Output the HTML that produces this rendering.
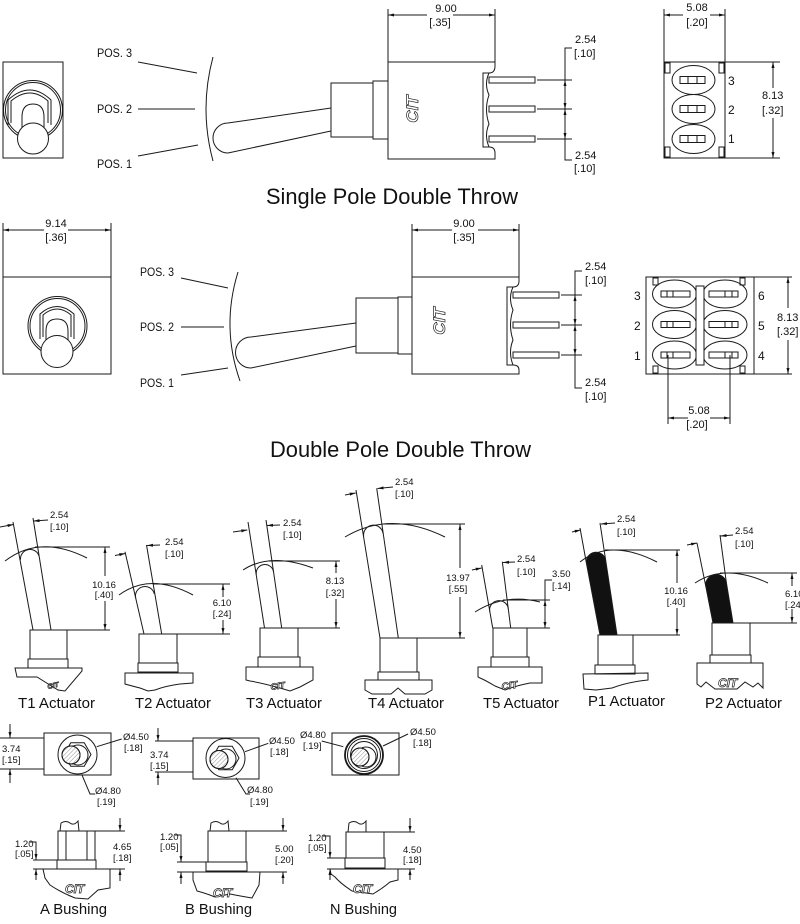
<!DOCTYPE html>
<html><head><meta charset="utf-8">
<style>
html,body{margin:0;padding:0;background:#fff;}
svg{display:block;}
text{font-family:"Liberation Sans",sans-serif;fill:#111;stroke:none;}
.d{font-size:11px;}
.s{font-size:9.5px;}
.p{font-size:12px;}
.t{font-size:22px;}
.l{font-size:14.5px;}
.n{font-size:12px;}
.logo{font-family:"Liberation Sans",sans-serif;font-weight:bold;font-style:italic;fill:#fff;stroke:#222;stroke-width:0.7;}
</style></head><body>
<svg width="800" height="924" viewBox="0 0 800 924" xmlns="http://www.w3.org/2000/svg">
<defs>
<marker id="a" viewBox="0 0 10 10" refX="10" refY="5" markerWidth="6" markerHeight="6" orient="auto-start-reverse" markerUnits="userSpaceOnUse"><path d="M0,2.5L10,5L0,7.5z" fill="#111" stroke="none"/></marker>
<pattern id="h" width="3" height="3" patternUnits="userSpaceOnUse" patternTransform="rotate(45)"><line x1="0" y1="0" x2="0" y2="3" stroke="#777" stroke-width="0.8"/></pattern>
</defs>
<g fill="none" stroke="#1a1a1a" stroke-width="1">

<!-- ================= SPDT ================= -->
<!-- front view -->
<rect x="3" y="62" width="60" height="96"/>
<circle cx="33" cy="110" r="29.5"/>
<circle cx="33" cy="110" r="27.5"/>
<path d="M8,125 L8,100 Q30,80 51,100 L51,125"/>
<path d="M11,123 L11,101 Q30,85 48,101 L48,123"/>
<path d="M22,130 L22,117 Q22,104 33,104 Q44,104 44,117 L44,130"/>
<circle cx="33" cy="138.5" r="15.5" fill="#fff"/>

<!-- side view -->
<line x1="138" y1="62" x2="197" y2="73"/>
<line x1="138" y1="109" x2="195" y2="109"/>
<line x1="138" y1="156" x2="198" y2="145"/>
<path d="M213,57 Q199,109 213,161"/>
<path d="M331,108 L228,123 A15,15 0 0 0 228,153 L331,131"/>
<rect x="331" y="83" width="42" height="54"/>
<rect x="373" y="81" width="15" height="58"/>
<path d="M388,103 L388,62 L495,62 L495,66 Q495,73 489,73 L483,73 L483,147 L489,147 Q495,147 495,153 L495,159 L388,159 L388,117"/>
<path d="M489,73 Q484,84 489,95 Q484,109 489,124 Q484,135 489,147"/>
<rect x="489" y="77" width="46" height="6"/>
<rect x="489" y="106" width="46" height="6"/>
<rect x="489" y="136" width="46" height="6"/>
<line x1="537" y1="80" x2="572" y2="80"/>
<line x1="537" y1="109" x2="572" y2="109"/>
<line x1="537" y1="139" x2="572" y2="139"/>
<path d="M572,48 L565,48 L565,80"/>
<path d="M565,139 L565,160 L572,160"/>
<line x1="565" y1="80" x2="565" y2="109" marker-start="url(#a)" marker-end="url(#a)"/>
<line x1="565" y1="109" x2="565" y2="139" marker-start="url(#a)" marker-end="url(#a)"/>
<line x1="388" y1="9" x2="388" y2="62"/>
<line x1="495" y1="9" x2="495" y2="62"/>
<line x1="427" y1="15" x2="388" y2="15" marker-end="url(#a)"/>
<line x1="453" y1="15" x2="495" y2="15" marker-end="url(#a)"/>

<!-- bottom view -->
<line x1="664" y1="9" x2="664" y2="62"/>
<line x1="725" y1="9" x2="725" y2="62"/>
<line x1="683" y1="15" x2="664" y2="15" marker-end="url(#a)"/>
<line x1="710" y1="15" x2="725" y2="15" marker-end="url(#a)"/>
<rect x="664" y="62" width="61" height="96"/>
<rect x="665" y="63" width="5" height="10"/>
<rect x="719" y="63" width="5" height="10"/>
<rect x="665" y="147" width="5" height="10"/>
<rect x="719" y="147" width="5" height="10"/>
<ellipse cx="693.5" cy="80" rx="21.5" ry="14.5"/>
<ellipse cx="693.5" cy="109" rx="21.5" ry="14.5"/>
<ellipse cx="693.5" cy="139" rx="21.5" ry="14.5"/>
<rect x="680" y="76.5" width="25" height="7"/><line x1="688" y1="76.5" x2="688" y2="83.5"/><line x1="697" y1="76.5" x2="697" y2="83.5"/>
<rect x="680" y="105.5" width="25" height="7"/><line x1="688" y1="105.5" x2="688" y2="112.5"/><line x1="697" y1="105.5" x2="697" y2="112.5"/>
<rect x="680" y="135.5" width="25" height="7"/><line x1="688" y1="135.5" x2="688" y2="142.5"/><line x1="697" y1="135.5" x2="697" y2="142.5"/>
<line x1="725" y1="62" x2="780" y2="62"/>
<line x1="725" y1="158" x2="780" y2="158"/>
<line x1="773" y1="88" x2="773" y2="62" marker-end="url(#a)"/>
<line x1="773" y1="118" x2="773" y2="158" marker-end="url(#a)"/>

<!-- ================= DPDT ================= -->
<!-- front view -->
<line x1="3" y1="223" x2="3" y2="277"/>
<line x1="111" y1="223" x2="111" y2="277"/>
<line x1="44" y1="230" x2="3" y2="230" marker-end="url(#a)"/>
<line x1="68" y1="230" x2="111" y2="230" marker-end="url(#a)"/>
<rect x="3" y="277" width="108" height="97"/>
<circle cx="57.5" cy="326" r="29.5"/>
<circle cx="57.5" cy="326" r="27.5"/>
<path d="M40,339 L40,314 Q57,299 74,314 L74,339"/>
<path d="M43,337 L43,315 Q57,303 71,315 L71,337"/>
<path d="M46,345 L46,331 Q46,319 57,319 Q68,319 68,331 L68,345"/>
<circle cx="57" cy="351.5" r="16" fill="#fff"/>

<!-- side view -->
<line x1="181" y1="278" x2="228" y2="288"/>
<line x1="181" y1="327" x2="224" y2="327"/>
<line x1="181" y1="375" x2="228" y2="368"/>
<path d="M238,272 Q221,327 240,381"/>
<path d="M356,323 L251,337 A15.5,15.5 0 0 0 251,368 L356,346"/>
<rect x="356" y="298" width="42" height="55"/>
<rect x="398" y="297" width="14" height="57"/>
<path d="M412,318 L412,277 L519,277 L519,281 Q519,287 513,287 L507,287 L507,365 L513,365 Q519,365 519,370 L519,374 L412,374 L412,332"/>
<path d="M513,287 Q508,298 513,310 Q508,325 513,340 Q508,352 513,365"/>
<rect x="513" y="292" width="46" height="6"/>
<rect x="513" y="322" width="46" height="6"/>
<rect x="513" y="352" width="46" height="6"/>
<line x1="561" y1="295" x2="582" y2="295"/>
<line x1="561" y1="325" x2="582" y2="325"/>
<line x1="561" y1="355" x2="582" y2="355"/>
<path d="M582,271 L575,271 L575,295"/>
<path d="M575,355 L575,388 L582,388"/>
<line x1="575" y1="295" x2="575" y2="325" marker-start="url(#a)" marker-end="url(#a)"/>
<line x1="575" y1="325" x2="575" y2="355" marker-start="url(#a)" marker-end="url(#a)"/>
<line x1="412" y1="224" x2="412" y2="277"/>
<line x1="519" y1="224" x2="519" y2="277"/>
<line x1="452" y1="230" x2="412" y2="230" marker-end="url(#a)"/>
<line x1="478" y1="230" x2="519" y2="230" marker-end="url(#a)"/>

<!-- bottom view -->
<rect x="646" y="277" width="108" height="97"/>
<rect x="653" y="278" width="5" height="7"/>
<rect x="740" y="278" width="5" height="7"/>
<rect x="653" y="366" width="5" height="7"/>
<rect x="740" y="366" width="5" height="7"/>
<ellipse cx="674.5" cy="294" rx="22" ry="14"/>
<ellipse cx="674.5" cy="324.5" rx="22" ry="14"/>
<ellipse cx="674.5" cy="355" rx="22" ry="14"/>
<ellipse cx="725" cy="294" rx="22" ry="14"/>
<ellipse cx="725" cy="324.5" rx="22" ry="14"/>
<ellipse cx="725" cy="355" rx="22" ry="14"/>
<rect x="696" y="286" width="8" height="79" fill="#fff"/>
<rect x="661" y="291" width="29" height="6"/><line x1="667" y1="291" x2="667" y2="297"/><line x1="673" y1="291" x2="673" y2="297"/>
<rect x="661" y="321.5" width="29" height="6"/><line x1="667" y1="321.5" x2="667" y2="327.5"/><line x1="673" y1="321.5" x2="673" y2="327.5"/>
<rect x="661" y="352" width="29" height="6"/><line x1="667" y1="352" x2="667" y2="358"/><line x1="673" y1="352" x2="673" y2="358"/>
<rect x="709" y="291" width="29" height="6"/><line x1="725" y1="291" x2="725" y2="297"/><line x1="732" y1="291" x2="732" y2="297"/>
<rect x="709" y="321.5" width="29" height="6"/><line x1="725" y1="321.5" x2="725" y2="327.5"/><line x1="732" y1="321.5" x2="732" y2="327.5"/>
<rect x="709" y="352" width="29" height="6"/><line x1="725" y1="352" x2="725" y2="358"/><line x1="732" y1="352" x2="732" y2="358"/>
<line x1="754" y1="277" x2="792" y2="277"/>
<line x1="754" y1="374" x2="792" y2="374"/>
<line x1="788" y1="308" x2="788" y2="277" marker-end="url(#a)"/>
<line x1="788" y1="340" x2="788" y2="374" marker-end="url(#a)"/>
<line x1="668" y1="355" x2="668" y2="424"/>
<line x1="730" y1="355" x2="730" y2="424"/>
<line x1="688" y1="418" x2="668" y2="418" marker-end="url(#a)"/>
<line x1="710" y1="418" x2="730" y2="418" marker-end="url(#a)"/>

<!-- ================= ACTUATORS ================= -->
<!-- T1 -->
<line x1="13" y1="522" x2="33" y2="630"/>
<line x1="33" y1="518" x2="51" y2="630"/>
<path d="M20.5,559.7 A9.5,9.5 0 0 1 39.1,556.3"/>
<path d="M5,561 Q40,534 87,558"/>
<line x1="0" y1="527" x2="13.5" y2="524.5" marker-end="url(#a)"/>
<line x1="48" y1="520" x2="33.5" y2="521" marker-end="url(#a)"/>
<line x1="35" y1="547" x2="110" y2="547"/>
<line x1="67" y1="630" x2="110" y2="630"/>
<line x1="105" y1="576" x2="105" y2="547" marker-end="url(#a)"/>
<line x1="105" y1="601" x2="105" y2="630" marker-end="url(#a)"/>
<rect x="30" y="630" width="37" height="29"/>
<rect x="28" y="659" width="40" height="9"/>
<path d="M15,668 L82,668 L82,671 L65,691 L58,690 L37,677 L17,677 Z"/>

<!-- T2 -->
<line x1="125" y1="551.7" x2="144" y2="634"/>
<line x1="146.5" y1="545" x2="161.7" y2="634"/>
<path d="M135.7,598.1 A9.5,9.5 0 0 1 154.3,593.9"/>
<path d="M119,595 Q150,572 193,595"/>
<line x1="115" y1="555.5" x2="125.3" y2="553.5" marker-end="url(#a)"/>
<line x1="160" y1="545" x2="147" y2="545.5" marker-end="url(#a)"/>
<line x1="153" y1="584" x2="230" y2="584"/>
<line x1="177" y1="634" x2="230" y2="634"/>
<line x1="223" y1="597" x2="223" y2="584" marker-end="url(#a)"/>
<line x1="223" y1="620" x2="223" y2="634" marker-end="url(#a)"/>
<rect x="139" y="634" width="38" height="29"/>
<rect x="138" y="663" width="40" height="9"/>
<path d="M125,673 L193,673 L193,683 L180,684 Q165,686 155,690 L148,691 L140,688 Q132,686 125,684 Z"/>

<!-- T3 -->
<line x1="248" y1="522" x2="264.5" y2="628"/>
<line x1="266" y1="520" x2="281.7" y2="628"/>
<path d="M256.3,574.3 A8.7,8.7 0 0 1 273.5,571.7"/>
<path d="M243,570 Q270,552 313,568"/>
<line x1="233" y1="532" x2="247.3" y2="530" marker-end="url(#a)"/>
<line x1="280" y1="525" x2="267" y2="525.5" marker-end="url(#a)"/>
<line x1="268" y1="561" x2="340" y2="561"/>
<line x1="298" y1="628" x2="340" y2="628"/>
<line x1="336" y1="573" x2="336" y2="561" marker-end="url(#a)"/>
<line x1="336" y1="599" x2="336" y2="628" marker-end="url(#a)"/>
<rect x="260" y="628" width="38" height="29"/>
<rect x="258" y="657" width="42" height="10"/>
<path d="M246,667 L313,667 L313,680 L300,687 L290,691 L280,688 Q262,683 250,681 L246,680 Z"/>

<!-- T4 -->
<line x1="356" y1="490" x2="380" y2="638"/>
<line x1="376.7" y1="488.3" x2="398.3" y2="638"/>
<path d="M363.7,536.5 A9.8,9.8 0 0 1 383.1,533.5"/>
<path d="M345,537 Q390,510 445,537"/>
<line x1="345" y1="495" x2="355.7" y2="493" marker-end="url(#a)"/>
<line x1="393" y1="487" x2="377.5" y2="488.5" marker-end="url(#a)"/>
<line x1="383" y1="524" x2="465" y2="524"/>
<line x1="417" y1="638" x2="465" y2="638"/>
<line x1="460" y1="568" x2="460" y2="524" marker-end="url(#a)"/>
<line x1="460" y1="597" x2="460" y2="638" marker-end="url(#a)"/>
<rect x="380" y="638" width="37" height="34"/>
<rect x="378" y="672" width="41" height="8"/>
<path d="M365,680 L432,680 L432,690 L425,694 L405,694 L398,688 L391,694 L372,694 L365,690 Z"/>

<!-- T5 -->
<line x1="481.7" y1="565" x2="492.7" y2="628"/>
<line x1="502.3" y1="561.7" x2="510.7" y2="628"/>
<path d="M489.7,611.4 A9.4,9.4 0 0 1 508.3,608.6"/>
<path d="M475,612 Q505,593 540,602"/>
<line x1="472" y1="570" x2="481.7" y2="568" marker-end="url(#a)"/>
<line x1="515" y1="562" x2="503" y2="562.5" marker-end="url(#a)"/>
<line x1="503" y1="600" x2="550" y2="600"/>
<line x1="527" y1="628" x2="550" y2="628"/>
<path d="M552,580 L545,580 L545,600"/>
<line x1="545" y1="600" x2="545" y2="628" marker-start="url(#a)" marker-end="url(#a)"/>
<rect x="493" y="628" width="34" height="29"/>
<rect x="491" y="657" width="38" height="10"/>
<path d="M478,667 L542,667 L542,683 L530,683 Q515,686 505,690 L495,686 Q485,680 480,678 L478,677 Z"/>

<!-- P1 -->
<line x1="580" y1="528" x2="586.5" y2="563.6"/>
<line x1="600" y1="523" x2="605.7" y2="560.4"/>
<path d="M586.5,563.6 A9.7,9.7 0 0 1 605.7,560.4 L617,635 L600,635 Z" fill="#111"/>
<path d="M580,562 Q610,538 657,562"/>
<line x1="572" y1="532" x2="580.7" y2="530" marker-end="url(#a)"/>
<line x1="615" y1="523" x2="601" y2="524" marker-end="url(#a)"/>
<line x1="605" y1="550" x2="680" y2="550"/>
<line x1="633" y1="635" x2="680" y2="635"/>
<line x1="677" y1="583" x2="677" y2="550" marker-end="url(#a)"/>
<line x1="677" y1="608" x2="677" y2="635" marker-end="url(#a)"/>
<rect x="598" y="635" width="35" height="30"/>
<rect x="595" y="665" width="40" height="9"/>
<path d="M583,674 L648,673 L648,680 Q628,682 612,688 L596,690 L584,689 Z"/>

<!-- P2 -->
<line x1="697" y1="543" x2="705.7" y2="585.8"/>
<line x1="720" y1="535" x2="726.3" y2="582.2"/>
<path d="M705.7,585.8 A10.5,10.5 0 0 1 726.3,582.2 L733,623 L713,623 Z" fill="#111"/>
<path d="M695,583 Q725,563 768,583"/>
<line x1="687" y1="545" x2="697" y2="543" marker-end="url(#a)"/>
<line x1="733" y1="535" x2="720.5" y2="536" marker-end="url(#a)"/>
<line x1="720" y1="573" x2="797" y2="573"/>
<line x1="750" y1="623" x2="797" y2="623"/>
<line x1="792" y1="586" x2="792" y2="573" marker-end="url(#a)"/>
<line x1="792" y1="609" x2="792" y2="623" marker-end="url(#a)"/>
<rect x="712" y="623" width="38" height="32"/>
<rect x="710" y="655" width="41" height="8"/>
<path d="M697,663 L763,663 L763,688 L758,683 L753,687 L745,682 L737,689 L715,689 L706,682 L701,687 L697,684 Z"/>

<!-- ================= BUSHING TOP VIEWS ================= -->
<!-- A -->
<rect x="44" y="733" width="67" height="42"/>
<circle cx="77.5" cy="754.5" r="19.5"/>
<polygon points="91,754.5 84.25,766.2 70.75,766.2 64,754.5 70.75,742.8 84.25,742.8"/>
<circle cx="78" cy="755" r="10"/>
<circle cx="71" cy="755" r="9" fill="#fff"/>
<circle cx="71" cy="755" r="9" fill="url(#h)"/>
<line x1="96.7" y1="746.7" x2="121.7" y2="739"/>
<path d="M81.7,774.3 L90,794 L95,794"/>
<line x1="0" y1="738" x2="44" y2="738"/>
<line x1="0" y1="769" x2="44" y2="769"/>
<line x1="10" y1="724" x2="10" y2="738" marker-end="url(#a)"/>
<line x1="10" y1="783" x2="10" y2="769" marker-end="url(#a)"/>

<!-- B -->
<rect x="193" y="738" width="66" height="41"/>
<circle cx="225.5" cy="758" r="19.5"/>
<polygon points="239,758 232.25,769.7 218.75,769.7 212,758 218.75,746.3 232.25,746.3"/>
<circle cx="226" cy="759" r="10"/>
<circle cx="219" cy="759.5" r="9" fill="#fff"/>
<circle cx="219" cy="759.5" r="9" fill="url(#h)"/>
<line x1="245" y1="751.7" x2="268.3" y2="743.3"/>
<path d="M236,777.7 L246,794 L250,794"/>
<line x1="155" y1="741" x2="193" y2="741"/>
<line x1="155" y1="772" x2="193" y2="772"/>
<line x1="158" y1="728" x2="158" y2="741" marker-end="url(#a)"/>
<line x1="158" y1="785" x2="158" y2="772" marker-end="url(#a)"/>

<!-- N -->
<rect x="332" y="733" width="67" height="42"/>
<circle cx="364" cy="755" r="19" stroke-width="1.8"/>
<circle cx="364" cy="755" r="16.5"/>
<circle cx="364" cy="755" r="13.5"/>
<circle cx="366" cy="757" r="10"/>
<circle cx="360" cy="757" r="9" fill="#fff"/>
<circle cx="360" cy="757" r="9" fill="url(#h)"/>
<line x1="343.3" y1="746.7" x2="321.7" y2="741"/>
<line x1="383" y1="746" x2="408" y2="734"/>

<!-- ================= BUSHING SIDE VIEWS ================= -->
<!-- A -->
<path d="M60,831 L61,823 Q66,820 70,823 Q74,826 78,821 L79,831"/>
<rect x="58" y="831" width="37" height="29"/>
<line x1="66" y1="831" x2="66" y2="860"/>
<line x1="87" y1="831" x2="87" y2="860"/>
<rect x="57" y="860" width="39" height="9"/>
<path d="M43,869 L110,869 L110,888 L98,890 L88,899 L75,898 Q62,893 50,885 L45,878 Z"/>
<line x1="33" y1="860" x2="57" y2="860"/>
<line x1="33" y1="869" x2="43" y2="869"/>
<path d="M30,842 L36,842 L36,860" marker-end="url(#a)"/>
<line x1="36" y1="880" x2="36" y2="869" marker-end="url(#a)"/>
<line x1="95" y1="831" x2="125" y2="831"/>
<line x1="110" y1="869" x2="125" y2="869"/>
<line x1="120" y1="818" x2="120" y2="831" marker-end="url(#a)"/>
<line x1="120" y1="881" x2="120" y2="869" marker-end="url(#a)"/>

<!-- B -->
<path d="M210,831 L211,823 Q216,820 220,823 Q224,826 228,821 L229,831"/>
<rect x="208" y="831" width="38" height="31"/>
<rect x="206" y="862" width="41" height="9"/>
<path d="M193,872 L260,872 L259,885 L252,898 Q240,896 230,894 L215,897 Q205,893 197,891 L193,880 Z"/>
<line x1="177" y1="862" x2="206" y2="862"/>
<line x1="177" y1="872" x2="193" y2="872"/>
<path d="M175,835 L181,835 L181,862" marker-end="url(#a)"/>
<line x1="181" y1="884" x2="181" y2="872" marker-end="url(#a)"/>
<line x1="246" y1="831" x2="287" y2="831"/>
<line x1="260" y1="872" x2="287" y2="872"/>
<line x1="283" y1="818" x2="283" y2="831" marker-end="url(#a)"/>
<line x1="283" y1="884" x2="283" y2="872" marker-end="url(#a)"/>

<!-- N -->
<path d="M348,832 L349,823 Q354,820 358,823 Q362,826 366,821 L366,832"/>
<rect x="346" y="832" width="38" height="26"/>
<rect x="345" y="858" width="40" height="10"/>
<path d="M330,869 L398,869 L398,880 L390,882 Q383,888 373,894 L352,891 Q340,883 335,877 L331,874 Z"/>
<line x1="327" y1="858" x2="345" y2="858"/>
<line x1="327" y1="869" x2="330" y2="869"/>
<path d="M323,836 L330,836 L330,858" marker-end="url(#a)"/>
<line x1="330" y1="880" x2="330" y2="869" marker-end="url(#a)"/>
<line x1="384" y1="832" x2="415" y2="832"/>
<line x1="398" y1="869" x2="415" y2="869"/>
<line x1="410" y1="818" x2="410" y2="832" marker-end="url(#a)"/>
<line x1="410" y1="880" x2="410" y2="869" marker-end="url(#a)"/>
</g>

<!-- ================= LOGOS ================= -->
<text class="logo" font-size="17" text-anchor="middle" transform="translate(418,109) rotate(-90)">CIT</text>
<text class="logo" font-size="17" text-anchor="middle" transform="translate(445,321) rotate(-90)">CIT</text>
<text class="logo" font-size="7" transform="translate(48,689) rotate(-12)">CIT</text>
<text class="logo" font-size="9" transform="translate(271,690) rotate(-8)">CIT</text>
<text class="logo" font-size="10" transform="translate(502,690) rotate(-8)">CIT</text>
<text class="logo" font-size="12" x="718" y="687">CIT</text>
<text class="logo" font-size="12" x="65" y="893">CIT</text>
<text class="logo" font-size="12" x="213" y="897">CIT</text>
<text class="logo" font-size="12" x="353" y="893">CIT</text>

<!-- ================= TEXT ================= -->
<!-- SPDT -->
<text class="p" x="97" y="57" textLength="35" lengthAdjust="spacingAndGlyphs">POS. 3</text>
<text class="p" x="97" y="113" textLength="35" lengthAdjust="spacingAndGlyphs">POS. 2</text>
<text class="p" x="97" y="168" textLength="35" lengthAdjust="spacingAndGlyphs">POS. 1</text>
<text class="d" x="446" y="12" text-anchor="middle">9.00</text>
<text class="d" x="440" y="26" text-anchor="middle">[.35]</text>
<text class="d" x="575" y="43">2.54</text>
<text class="d" x="574" y="57">[.10]</text>
<text class="d" x="575" y="159">2.54</text>
<text class="d" x="574" y="172">[.10]</text>
<text class="d" x="697" y="11" text-anchor="middle">5.08</text>
<text class="d" x="697" y="26" text-anchor="middle">[.20]</text>
<text class="d" x="762" y="99">8.13</text>
<text class="d" x="762" y="114">[.32]</text>
<text class="n" x="728" y="85">3</text>
<text class="n" x="728" y="114">2</text>
<text class="n" x="728" y="143">1</text>
<text class="t" x="266" y="204" textLength="252" lengthAdjust="spacingAndGlyphs">Single Pole Double Throw</text>

<!-- DPDT -->
<text class="d" x="56" y="227" text-anchor="middle">9.14</text>
<text class="d" x="56" y="241" text-anchor="middle">[.36]</text>
<text class="p" x="140" y="276" textLength="34" lengthAdjust="spacingAndGlyphs">POS. 3</text>
<text class="p" x="140" y="331" textLength="34" lengthAdjust="spacingAndGlyphs">POS. 2</text>
<text class="p" x="140" y="387" textLength="34" lengthAdjust="spacingAndGlyphs">POS. 1</text>
<text class="d" x="464" y="227" text-anchor="middle">9.00</text>
<text class="d" x="464" y="241" text-anchor="middle">[.35]</text>
<text class="d" x="585" y="270">2.54</text>
<text class="d" x="585" y="284">[.10]</text>
<text class="d" x="585" y="386">2.54</text>
<text class="d" x="585" y="400">[.10]</text>
<text class="n" x="634" y="300">3</text>
<text class="n" x="634" y="330">2</text>
<text class="n" x="634" y="360">1</text>
<text class="n" x="758" y="300">6</text>
<text class="n" x="758" y="330">5</text>
<text class="n" x="758" y="360">4</text>
<text class="d" x="777" y="321">8.13</text>
<text class="d" x="777" y="335">[.32]</text>
<text class="d" x="699" y="414" text-anchor="middle">5.08</text>
<text class="d" x="697" y="428" text-anchor="middle">[.20]</text>
<text class="t" x="270" y="457" textLength="261" lengthAdjust="spacingAndGlyphs">Double Pole Double Throw</text>

<!-- Actuator dims -->
<text class="s" x="50" y="518">2.54</text>
<text class="s" x="50" y="530">[.10]</text>
<text class="s" x="104" y="588" text-anchor="middle">10.16</text>
<text class="s" x="104" y="598" text-anchor="middle">[.40]</text>
<text class="s" x="165" y="545">2.54</text>
<text class="s" x="165" y="557">[.10]</text>
<text class="s" x="222" y="606" text-anchor="middle">6.10</text>
<text class="s" x="222" y="617" text-anchor="middle">[.24]</text>
<text class="s" x="283" y="526">2.54</text>
<text class="s" x="283" y="538">[.10]</text>
<text class="s" x="335" y="584" text-anchor="middle">8.13</text>
<text class="s" x="335" y="596" text-anchor="middle">[.32]</text>
<text class="s" x="395" y="485">2.54</text>
<text class="s" x="395" y="497">[.10]</text>
<text class="s" x="458" y="581" text-anchor="middle">13.97</text>
<text class="s" x="458" y="592" text-anchor="middle">[.55]</text>
<text class="s" x="517" y="562">2.54</text>
<text class="s" x="517" y="575">[.10]</text>
<text class="s" x="552" y="577">3.50</text>
<text class="s" x="552" y="589">[.14]</text>
<text class="s" x="617" y="522">2.54</text>
<text class="s" x="617" y="535">[.10]</text>
<text class="s" x="676" y="594" text-anchor="middle">10.16</text>
<text class="s" x="676" y="605" text-anchor="middle">[.40]</text>
<text class="s" x="735" y="534">2.54</text>
<text class="s" x="735" y="547">[.10]</text>
<text class="s" x="785" y="597">6.10</text>
<text class="s" x="785" y="608">[.24]</text>

<text class="l" x="18" y="708" textLength="77" lengthAdjust="spacingAndGlyphs">T1 Actuator</text>
<text class="l" x="135" y="708" textLength="76" lengthAdjust="spacingAndGlyphs">T2 Actuator</text>
<text class="l" x="246" y="708" textLength="76" lengthAdjust="spacingAndGlyphs">T3 Actuator</text>
<text class="l" x="368" y="708" textLength="76" lengthAdjust="spacingAndGlyphs">T4 Actuator</text>
<text class="l" x="483" y="708" textLength="76" lengthAdjust="spacingAndGlyphs">T5 Actuator</text>
<text class="l" x="588" y="706" textLength="77" lengthAdjust="spacingAndGlyphs">P1 Actuator</text>
<text class="l" x="705" y="708" textLength="77" lengthAdjust="spacingAndGlyphs">P2 Actuator</text>

<!-- Bushing dims -->
<text class="s" x="2" y="752">3.74</text>
<text class="s" x="2" y="763">[.15]</text>
<text class="s" x="123" y="740">Ø4.50</text>
<text class="s" x="124" y="751">[.18]</text>
<text class="s" x="95" y="794">Ø4.80</text>
<text class="s" x="97" y="805">[.19]</text>
<text class="s" x="150" y="758">3.74</text>
<text class="s" x="150" y="769">[.15]</text>
<text class="s" x="269" y="744">Ø4.50</text>
<text class="s" x="270" y="755">[.18]</text>
<text class="s" x="247" y="793">Ø4.80</text>
<text class="s" x="250" y="805">[.19]</text>
<text class="s" x="300" y="738">Ø4.80</text>
<text class="s" x="303" y="749">[.19]</text>
<text class="s" x="410" y="735">Ø4.50</text>
<text class="s" x="413" y="746">[.18]</text>

<text class="s" x="15" y="847">1.20</text>
<text class="s" x="15" y="857">[.05]</text>
<text class="s" x="113" y="850">4.65</text>
<text class="s" x="113" y="861">[.18]</text>
<text class="s" x="160" y="840">1.20</text>
<text class="s" x="160" y="850">[.05]</text>
<text class="s" x="275" y="852">5.00</text>
<text class="s" x="275" y="863">[.20]</text>
<text class="s" x="308" y="841">1.20</text>
<text class="s" x="308" y="851">[.05]</text>
<text class="s" x="403" y="853">4.50</text>
<text class="s" x="403" y="863">[.18]</text>

<text class="l" x="40" y="914" font-size="14" textLength="67" lengthAdjust="spacingAndGlyphs">A Bushing</text>
<text class="l" x="185" y="914" font-size="14" textLength="67" lengthAdjust="spacingAndGlyphs">B Bushing</text>
<text class="l" x="330" y="914" font-size="14" textLength="67" lengthAdjust="spacingAndGlyphs">N Bushing</text>
</svg>
</body></html>
